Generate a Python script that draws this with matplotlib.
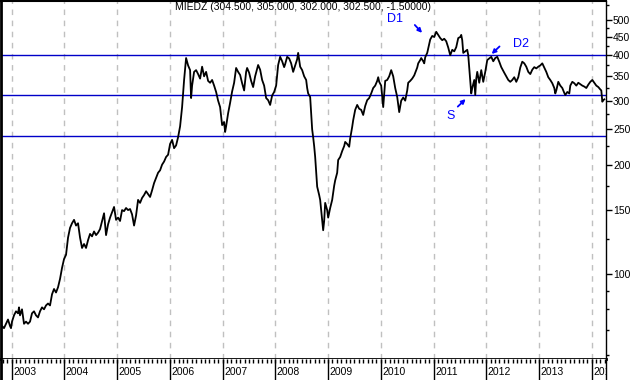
import numpy as np
import matplotlib.pyplot as plt
from matplotlib.ticker import FixedLocator, NullFormatter

plt.rcParams['font.family'] = ['Liberation Sans', 'DejaVu Sans']

# weekly closes of MIEDZ, week counted from early October 2002
weeks = [1, 2, 4, 6, 8, 10, 11, 12, 14, 16, 18, 19, 20, 22, 24, 26, 28, 30, 32, 34,
         36, 38, 40, 42, 44, 46, 48, 50, 52, 54, 56, 58, 60, 62, 64, 66, 68, 70, 72, 74,
         76, 78, 80, 82, 84, 86, 88, 90, 92, 94, 96, 98, 100, 102, 104, 106, 108, 110, 112, 114,
         116, 118, 120, 122, 124, 126, 128, 130, 132, 134, 136, 138, 140, 142, 144, 146, 148, 150, 152, 154,
         156, 158, 160, 162, 164, 166, 168, 170, 172, 174, 176, 178, 180, 182, 184, 186, 188, 190, 191, 192,
         194, 196, 198, 200, 202, 204, 206, 208, 210, 212, 214, 216, 218, 220, 222, 224, 225, 226, 228, 230,
         232, 234, 236, 238, 240, 242, 244, 246, 247, 249, 251, 253, 255, 258, 260, 262, 264, 266, 268, 270,
         272, 274, 276, 278, 280, 282, 284, 285, 287, 289, 291, 293, 295, 297, 298, 300, 302, 304, 306, 307,
         308, 310, 312, 313, 314, 315, 317, 319, 320, 321, 322, 323, 324, 325, 327, 328, 330, 332, 334, 335,
         337, 338, 340, 342, 344, 345, 347, 349, 350, 352, 353, 355, 357, 359, 361, 363, 365, 367, 369, 371,
         373, 375, 377, 378, 379, 381, 383, 385, 387, 389, 391, 393, 395, 397, 399, 401, 403, 405, 407, 408,
         410, 412, 414, 415, 417, 418, 420, 421, 423, 424, 425, 427, 429, 430, 432, 434, 436, 438, 440, 442,
         444, 446, 448, 450, 452, 454, 456, 458, 460, 461, 462, 463, 465, 467, 468, 469, 470, 471, 472, 474,
         475, 476, 477, 479, 480, 481, 483, 485, 487, 489, 491, 493, 495, 497, 499, 501, 503, 504, 506, 508,
         510, 512, 514, 516, 518, 520, 522, 524, 526, 528, 530, 532, 534, 536, 538, 540, 542, 544, 546, 548,
         550, 552, 554, 555, 556, 558, 560, 562, 564, 565, 567, 569, 570, 572, 574, 576, 578, 580, 582, 584,
         586, 588, 590, 592, 594, 596, 598, 600, 601, 602, 603, 604]
close = [70, 72, 71, 73, 75, 72, 71, 74, 77, 79, 78, 81, 77, 80, 73, 74, 73, 74, 78, 79,
         77, 76, 79, 81, 80, 82, 83, 82, 88, 91, 89, 92, 97, 104, 110, 113, 126, 134, 138, 141,
         136, 138, 126, 118, 121, 118, 124, 129, 127, 131, 128, 130, 133, 140, 147, 128, 137, 143, 148, 153,
         141, 143, 140, 150, 149, 152, 150, 151, 146, 136, 145, 160, 157, 162, 165, 169, 166, 163, 170, 178,
         184, 190, 193, 200, 204, 210, 213, 228, 234, 222, 226, 238, 255, 288, 342, 393, 375, 364, 305, 330,
         360, 364, 355, 345, 372, 350, 360, 340, 336, 342, 330, 317, 300, 288, 257, 262, 246, 255, 277, 296,
         318, 336, 369, 360, 353, 335, 320, 360, 369, 358, 340, 327, 350, 376, 365, 342, 330, 305, 301, 292,
         310, 317, 330, 376, 396, 385, 371, 378, 396, 392, 380, 360, 375, 390, 406, 372, 364, 350, 342, 325,
         314, 307, 250, 238, 225, 210, 174, 165, 160, 150, 141, 132, 140, 157, 150, 143, 152, 160, 175, 181,
         190, 206, 210, 218, 225, 231, 228, 224, 236, 254, 265, 283, 292, 285, 283, 274, 290, 301, 305, 314,
         325, 330, 340, 348, 338, 330, 288, 340, 342, 350, 364, 350, 325, 307, 279, 300, 306, 300, 320, 336,
         340, 345, 352, 358, 370, 380, 388, 393, 385, 380, 395, 406, 430, 442, 452, 449, 464, 455, 446, 440,
         444, 437, 420, 400, 414, 410, 421, 446, 449, 455, 440, 406, 410, 414, 400, 370, 342, 314, 325, 342,
         311, 345, 360, 336, 350, 364, 338, 360, 388, 392, 396, 385, 393, 396, 384, 371, 362, 358, 350, 342,
         338, 342, 348, 338, 348, 370, 384, 380, 372, 360, 355, 365, 371, 368, 372, 375, 380, 370, 360, 348,
         342, 335, 325, 314, 320, 338, 330, 325, 315, 311, 317, 314, 330, 338, 335, 330, 336, 333, 330, 328,
         325, 332, 338, 342, 336, 330, 327, 322, 320, 298, 301, 302.5]

title = 'MIEDZ (304.500, 305.000, 302.000, 302.500, -1.50000)'
years = list(range(2003, 2015))
resistance = 400
support = 310
low_line = 240
price_ticks = [100, 150, 200, 250, 300, 350, 400, 450, 500]
minor_ticks = [60, 70, 80, 90, 125, 175, 225, 275, 325, 375, 425, 475, 550]

W, H = 634, 380
px_year = 52.7
x0, x1 = 2002.797, 2014.271
t = 2002.778 + np.array(weeks) / px_year

fig = plt.figure(figsize=(W / 100, H / 100), dpi=100)
ax = fig.add_axes([1 / W, (H - 359) / H, 605 / W, 358 / H])
ax.set_yscale('log')
ax.set_xlim(x0, x1)
ax.set_ylim(58.4, 564)

ax.set_xticks(years)
ax.tick_params(axis='x', length=0, labelbottom=False)
ax.grid(axis='x', color='#c0c0c0', linestyle=(0, (4, 4)), linewidth=1)

ax.yaxis.tick_right()
ax.yaxis.set_major_locator(FixedLocator(price_ticks))
ax.set_yticklabels([str(v) for v in price_ticks])
ax.yaxis.set_minor_locator(FixedLocator(minor_ticks))
ax.yaxis.set_minor_formatter(NullFormatter())
ax.tick_params(axis='y', which='major', length=4, width=1, labelsize=7.5, pad=1)
ax.tick_params(axis='y', which='minor', length=2, width=1)

for s in ax.spines.values():
    s.set_color('black')
ax.spines['left'].set_linewidth(2)
ax.spines['bottom'].set_linewidth(2)
ax.spines['top'].set_linewidth(1.5)
ax.spines['right'].set_linewidth(1)

ax.axhline(resistance, color='#0000c8', lw=1)
ax.axhline(support, color='#0000c8', lw=1)
ax.axhline(low_line, color='#0000c8', lw=1)

ax.plot(t, close, color='black', lw=1.3)

ax.text(0.499, 0.983, title, transform=ax.transAxes, ha='center', va='center', fontsize=7.5)

blue = '#0000ff'
ax.text(0.651, 0.950, 'D1', transform=ax.transAxes, ha='center', va='center', fontsize=9, color=blue)
ax.text(0.860, 0.880, 'D2', transform=ax.transAxes, ha='center', va='center', fontsize=9, color=blue)
ax.text(0.743, 0.679, 'S', transform=ax.transAxes, ha='center', va='center', fontsize=9, color=blue)
arrows = [((0.684, 0.933), (0.696, 0.911)),
          ((0.824, 0.873), (0.811, 0.852)),
          ((0.755, 0.705), (0.768, 0.726))]
for start, end in arrows:
    ax.annotate('', xy=end, xytext=start, xycoords='axes fraction', textcoords='axes fraction',
                arrowprops=dict(arrowstyle='-|>', color=blue, lw=1.3, mutation_scale=6,
                                shrinkA=0, shrinkB=0))

# year strip below the chart
axb = fig.add_axes([1 / W, 0, 605 / W, 21 / H])
axb.set_xlim(x0, x1)
axb.set_ylim(0, 1)
axb.set_xticks([])
axb.set_yticks([])
for side in ['top', 'bottom']:
    axb.spines[side].set_visible(False)
axb.spines['left'].set_linewidth(2)
axb.spines['right'].set_linewidth(1)
months = [y + m / 12 for y in range(2002, 2015) for m in range(12)]
axb.vlines(months, 1 - 3.5 / 21, 1, color='black', lw=1)
axb.vlines(years, 0, 1, color='black', lw=1)
for y in years:
    axb.text(y + 1.5 / px_year, 0.36, str(y), ha='left', va='center', fontsize=7.5, clip_on=True)

fig.savefig('out.png', dpi=100)
